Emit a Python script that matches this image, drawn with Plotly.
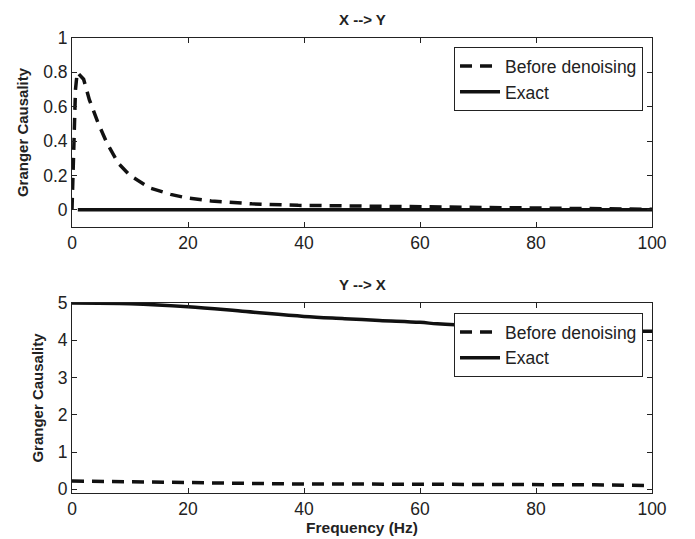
import plotly.graph_objects as go
from plotly.subplots import make_subplots

# Top panel: X --> Y
freq_top_before = [0, 0.3, 0.6, 0.9, 2, 3, 4.5, 6, 8, 10, 13.5, 17, 20, 24, 31, 39, 46, 50, 60, 70, 80, 90, 100]
gc_top_before = [0.0, 0.3, 0.7, 0.8, 0.76, 0.64, 0.505, 0.39, 0.27, 0.2, 0.126, 0.09, 0.068, 0.052, 0.035, 0.026, 0.023, 0.023, 0.02, 0.015, 0.008, 0.004, 0.003]
freq_top_exact = [1, 100]
gc_top_exact = [0.0, 0.0]

# Bottom panel: Y --> X
freq_bot = [0, 10, 20, 30, 40, 47, 53, 60, 63, 70, 80, 90, 100]
gc_bot_exact = [5.0, 4.98, 4.9, 4.77, 4.64, 4.58, 4.53, 4.48, 4.44, 4.38, 4.32, 4.27, 4.24]
freq_bot_before = [0, 10, 20, 30, 40, 50, 60, 70, 80, 90, 100]
gc_bot_before = [0.22, 0.2, 0.17, 0.15, 0.14, 0.14, 0.14, 0.14, 0.135, 0.12, 0.1]

x_ticks = [0, 20, 40, 60, 80, 100]
top_yticks = [0, 0.2, 0.4, 0.6, 0.8, 1]
bot_yticks = [0, 1, 2, 3, 4, 5]

FONT = "Liberation Sans, Arial, sans-serif"
DASH = "12px,8px"
LC = "#111111"
TC = "#222222"

fig = make_subplots(rows=2, cols=1)

fig.add_trace(go.Scatter(x=freq_top_before, y=gc_top_before, mode="lines", name="Before denoising",
                         line=dict(color=LC, width=3.5, dash=DASH), legend="legend"), row=1, col=1)
fig.add_trace(go.Scatter(x=freq_top_exact, y=gc_top_exact, mode="lines", name="Exact",
                         line=dict(color=LC, width=3.5), legend="legend"), row=1, col=1)
fig.add_trace(go.Scatter(x=freq_bot_before, y=gc_bot_before, mode="lines", name="Before denoising",
                         line=dict(color=LC, width=3.5, dash=DASH), legend="legend2"), row=2, col=1)
fig.add_trace(go.Scatter(x=freq_bot, y=gc_bot_exact, mode="lines", name="Exact", line_shape="spline",
                         line=dict(color=LC, width=3.5), legend="legend2"), row=2, col=1)

axis_common = dict(showline=True, linecolor=TC, linewidth=1, mirror="ticks", ticks="inside",
                   ticklen=5, tickcolor=TC, showgrid=False, zeroline=False, automargin=False,
                   tickfont=dict(family=FONT, size=17.5, color=TC))

fig.update_xaxes(range=[0, 100], tickvals=x_ticks, domain=[0, 1], **axis_common)
fig.update_yaxes(**axis_common)
ytitle = dict(text="<b>Granger Causality</b>", font=dict(family=FONT, size=15, color=TC), standoff=10)
fig.update_yaxes(range=[-0.1, 1], tickvals=top_yticks, domain=[0.5846, 1.0], title=ytitle, row=1, col=1)
fig.update_yaxes(range=[-0.1, 5], tickvals=bot_yticks, domain=[0.0, 0.4176], title=ytitle, row=2, col=1)
fig.update_xaxes(title=dict(text="<b>Frequency (Hz)</b>", font=dict(family=FONT, size=15.5, color=TC), standoff=2),
                 row=2, col=1)

legend_common = dict(bgcolor="white", bordercolor=TC, borderwidth=1,
                     font=dict(family=FONT, size=17.5, color=TC), xanchor="right", yanchor="top",
                     tracegroupgap=0, itemwidth=40)
fig.update_layout(
    legend=dict(x=0.9845, y=0.98, **legend_common),
    legend2=dict(x=0.9845, y=0.3956, **legend_common),
)

fig.add_annotation(text="<b>X --> Y</b>", x=0.5, y=1.0, xref="paper", yref="paper", yanchor="bottom",
                   yshift=8, showarrow=False, font=dict(family=FONT, size=15, color=TC))
fig.add_annotation(text="<b>Y --> X</b>", x=0.5, y=0.4176, xref="paper", yref="paper", yanchor="bottom",
                   yshift=8, showarrow=False, font=dict(family=FONT, size=15, color=TC))

fig.update_layout(width=695, height=539, margin=dict(l=64, r=51, t=30, b=54),
                  plot_bgcolor="white", paper_bgcolor="white", showlegend=True)

fig.write_html("out.html")
